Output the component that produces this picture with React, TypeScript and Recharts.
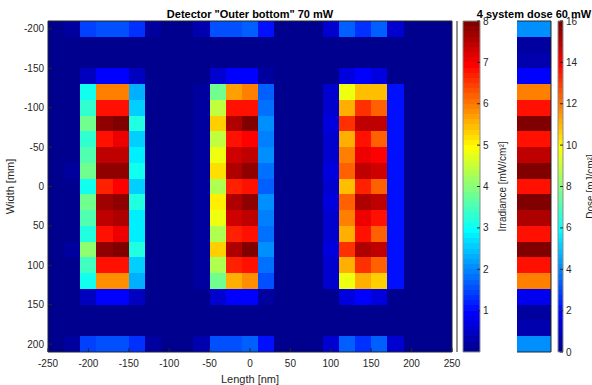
import React from 'react';
import { ScatterChart, Scatter, XAxis, YAxis, ReferenceArea } from 'recharts';

// cell centres (mm), 20 mm pitch
const xCenters = [-240, -220, -200, -180, -160, -140, -120, -100, -80, -60, -40, -20, 0, 20, 40, 60, 80, 100, 120, 140, 160, 180, 200, 220, 240];
const yCenters = [-200, -180, -160, -140, -120, -100, -80, -60, -40, -20, 0, 20, 40, 60, 80, 100, 120, 140, 160, 180, 200];
const xTicks = [-250, -200, -150, -100, -50, 0, 50, 100, 150, 200, 250];
const yTicks = [-200, -150, -100, -50, 0, 50, 100, 150, 200];
const irradianceTicks = [1, 2, 3, 4, 5, 6, 7, 8];
const doseTicks = [0, 2, 4, 6, 8, 10, 12, 14, 16];
const doseFrameTicks = [2, 4, 6, 8, 10, 12, 14];

// irradiance [mW/cm2] per column, rows from y=-200 to y=200
const colBg = [0, 0, 0, 0, 0, 0, 0, 0, 0, 0, 0, 0, 0, 0, 0, 0, 0, 0, 0, 0, 0];
const colM220 = [0.2, 0, 0, 0.05, 0.05, 0.1, 0.05, 0.05, 0.1, 0.15, 0.05, 0.1, 0.05, 0.1, 0.15, 0.05, 0.05, 0.05, 0, 0, 0.2];
const colM200 = [1.45, 0, 0, 0.45, 3.0, 3.25, 3.8, 3.25, 3.5, 3.8, 3.0, 3.85, 3.55, 3.15, 4.0, 3.45, 3.0, 0.45, 0, 0, 1.45];
const colM180 = [1.5, 0, 0, 0.9, 5.9, 6.75, 7.85, 6.8, 7.45, 7.8, 6.7, 7.7, 7.4, 6.8, 7.85, 6.8, 5.85, 0.9, 0, 0, 1.5];
const colM160 = [1.5, 0, 0, 0.9, 5.9, 6.75, 8.0, 7.0, 7.45, 7.85, 6.9, 7.85, 7.5, 7.0, 8.0, 6.8, 5.85, 0.9, 0, 0, 1.5];
const colM140 = [1.3, 0, 0, 0.45, 2.3, 2.55, 3.2, 2.55, 2.8, 3.05, 2.6, 3.2, 2.85, 2.75, 3.15, 2.6, 2.35, 0.45, 0, 0, 1.3];
const colM120 = [0.15, 0, 0, 0, 0, 0, 0, 0, 0, 0, 0, 0, 0, 0, 0, 0, 0, 0, 0, 0, 0.15];
const colM60 = [0.3, 0, 0, 0.05, 0.15, 0.15, 0.2, 0.15, 0.15, 0.2, 0.15, 0.2, 0.15, 0.15, 0.2, 0.15, 0.15, 0.05, 0, 0, 0.3];
const colM40 = [1.6, 0, 0, 0.55, 3.85, 4.4, 5.3, 4.4, 4.8, 5.15, 4.3, 5.1, 4.75, 4.35, 5.3, 4.35, 3.85, 0.55, 0, 0, 1.6];
const colM20 = [1.5, 0, 0, 0.95, 5.65, 6.75, 7.6, 6.75, 7.3, 7.6, 6.65, 7.5, 7.3, 6.7, 7.6, 6.7, 5.6, 0.95, 0, 0, 1.5];
const col0 = [1.7, 0, 0, 0.9, 5.9, 6.75, 8.0, 6.9, 7.45, 7.8, 6.8, 7.85, 7.45, 6.75, 8.0, 6.75, 5.85, 0.9, 0, 0, 1.7];
const col20 = [1.1, 0, 0, 0.2, 1.7, 1.75, 2.0, 1.95, 2.0, 1.8, 1.7, 2.0, 1.95, 1.8, 2.0, 1.85, 1.6, 0.2, 0, 0, 1.1];
const col100 = [0.55, 0, 0, 0.1, 0.6, 0.6, 0.65, 0.6, 0.6, 0.65, 0.6, 0.65, 0.6, 0.6, 0.65, 0.6, 0.6, 0.1, 0, 0, 0.6];
const col120 = [1.65, 0, 0, 0.65, 4.8, 5.5, 6.6, 5.5, 5.9, 6.2, 5.45, 6.2, 5.9, 5.5, 6.6, 5.5, 4.8, 0.65, 0, 0, 1.65];
const col140 = [1.3, 0, 0, 0.95, 5.45, 6.6, 7.45, 6.75, 7.0, 7.45, 6.7, 7.5, 7.0, 6.75, 7.5, 6.6, 5.5, 0.95, 0, 0, 1.3];
const col160 = [1.7, 0, 0, 0.7, 5.45, 6.15, 7.4, 6.2, 6.9, 7.3, 6.15, 7.4, 6.8, 6.15, 7.4, 6.15, 5.35, 0.7, 0, 0, 1.7];
const col180 = [0.6, 0, 0, 0.1, 1.05, 1.0, 1.1, 1.0, 1.05, 1.0, 1.0, 1.05, 1.0, 1.0, 1.05, 1.0, 1.0, 0.1, 0, 0, 0.6];

const irradianceCols = [
  colBg, colM220, colM200, colM180, colM160, colM140, colM120, colBg, colBg, colM60, colM40, colM20, col0,
  col20, colBg, colBg, colBg, col100, col120, col140, col160, col180, colBg, colBg, colBg,
];

// 4 system dose [mJ/cm2], rows from y=-200 to y=200
const doseCol = [4.05, 0.3, 0.5, 1.8, 11.8, 13.7, 16, 13.7, 14.9, 15.9, 13.7, 16, 15.0, 13.7, 16, 13.7, 11.8, 1.7, 0.3, 0.5, 4.0];

const W = 592;
const H = 385;
const HALF = 10;
const FONT = '"Liberation Sans", Arial, Helvetica, sans-serif';
const AXIS = '#262626';
const BAR_EDGE = '#8c8c8c';

// MATLAB jet(64)
const jetU = (k: number) => (k < 1 || k > 47 ? 0 : k <= 16 ? k / 16 : k <= 31 ? 1 : (48 - k) / 16);
const jetColor = (v: number, max: number) => {
  const i = Math.min(64, Math.max(1, Math.floor((v / max) * 64) + 1));
  const c = (k: number) => Math.round(jetU(k) * 255);
  return `rgb(${c(i - 24)},${c(i - 8)},${c(i + 8)})`;
};

const irradianceCells = xCenters.flatMap((x, i) => irradianceCols[i].map((v, j) => ({ x, y: yCenters[j], v })));
const doseCells = yCenters.map((y, j) => ({ x: 0.5, y, v: doseCol[j] }));
const levels = Array.from({ length: 64 }, (_, i) => i);

const tickStyle = { fill: AXIS, fontSize: 10, fontFamily: FONT };
const noDot = () => <g />;

const cellArea = (key: string, x1: number, x2: number, y1: number, y2: number, color: string) => (
  <ReferenceArea
    key={key}
    x1={x1}
    x2={x2}
    y1={y1}
    y2={y2}
    ifOverflow="visible"
    shape={(p: any) => (
      <rect x={p.x} y={p.y} width={p.width} height={p.height} fill={color} shapeRendering="crispEdges" />
    )}
  />
);

const layer: React.CSSProperties = { position: 'absolute', left: 0, top: 0 };

const App: React.FC = () => (
  <div style={{ position: 'absolute', left: 0, top: 0, width: W, height: H, background: '#fff', fontFamily: FONT }}>
    {/* main irradiance map */}
    <div style={layer}>
      <ScatterChart width={W} height={H} margin={{ top: 20, right: 139, bottom: 0, left: 0 }}>
        <Scatter data={irradianceCells} shape={noDot} isAnimationActive={false} />
        {irradianceCells.map((c) =>
          cellArea(`${c.x}_${c.y}`, c.x - HALF, c.x + HALF, c.y - HALF, c.y + HALF, jetColor(c.v, 8))
        )}
        <XAxis
          type="number"
          dataKey="x"
          domain={[-250, 250]}
          ticks={xTicks}
          allowDataOverflow
          height={33}
          tickSize={-4}
          tickMargin={12}
          tick={tickStyle}
          tickLine={{ stroke: AXIS }}
          axisLine={{ stroke: AXIS }}
          label={{ value: 'Length [nm]', position: 'insideBottom', offset: 2, fill: AXIS, fontSize: 11, fontFamily: FONT }}
        />
        <XAxis
          xAxisId="top"
          orientation="top"
          type="number"
          domain={[-250, 250]}
          ticks={xTicks}
          allowDataOverflow
          height={1}
          tickSize={-4}
          tick={false}
          tickLine={{ stroke: AXIS }}
          axisLine={{ stroke: AXIS }}
          label={{
            value: 'Detector "Outer bottom" 70 mW',
            position: 'top',
            offset: 2,
            fill: '#000',
            fontSize: 11,
            fontWeight: 'bold',
            fontFamily: FONT,
          }}
        />
        <YAxis
          type="number"
          dataKey="y"
          domain={[-210, 210]}
          ticks={yTicks}
          reversed
          allowDataOverflow
          width={48}
          tickSize={-4}
          tickMargin={8}
          tick={tickStyle}
          tickLine={{ stroke: AXIS }}
          axisLine={{ stroke: AXIS }}
          label={{
            value: 'Width [mm]',
            position: 'insideLeft',
            angle: -90,
            offset: 10,
            fill: AXIS,
            fontSize: 11,
            fontFamily: FONT,
            style: { textAnchor: 'middle' },
          }}
        />
        <YAxis
          yAxisId="right"
          orientation="right"
          type="number"
          domain={[-210, 210]}
          ticks={yTicks}
          reversed
          allowDataOverflow
          width={1}
          tickSize={-4}
          tick={false}
          tickLine={{ stroke: AXIS }}
          axisLine={{ stroke: AXIS }}
        />
      </ScatterChart>
    </div>

    {/* irradiance colorbar */}
    <div style={layer}>
      <ScatterChart width={W} height={H} margin={{ top: 21, right: 111, bottom: 33, left: 463 }}>
        <Scatter data={[{ x: 0.5, y: 4 }]} shape={noDot} isAnimationActive={false} />
        {levels.map((i) => cellArea(`ib${i}`, 0, 1, (i * 8) / 64, ((i + 1) * 8) / 64, jetColor(((i + 0.5) * 8) / 64, 8)))}
        <ReferenceArea x1={0} x2={1} y1={0} y2={8} fill="none" stroke={BAR_EDGE} strokeWidth={1} ifOverflow="visible" />
        <XAxis type="number" dataKey="x" domain={[0, 1]} allowDataOverflow hide />
        <YAxis
          type="number"
          dataKey="y"
          orientation="right"
          domain={[0, 8]}
          ticks={irradianceTicks}
          allowDataOverflow
          width={1}
          tickSize={-3}
          tickMargin={6}
          tick={tickStyle}
          tickLine={{ stroke: AXIS }}
          axisLine={false}
          label={{
            value: 'Irradiance [mW/cm²]',
            position: 'right',
            angle: -90,
            offset: 21,
            fill: AXIS,
            fontSize: 10,
            fontFamily: FONT,
            style: { textAnchor: 'middle' },
          }}
        />
      </ScatterChart>
    </div>

    {/* 4 system dose column */}
    <div style={layer}>
      <ScatterChart width={W} height={H} margin={{ top: 20, right: 40, bottom: 32, left: 516 }}>
        <Scatter data={doseCells} shape={noDot} isAnimationActive={false} />
        {doseCells.map((c) => cellArea(`d${c.y}`, 0, 1, c.y - HALF, c.y + HALF, jetColor(c.v, 16)))}
        <XAxis
          type="number"
          dataKey="x"
          domain={[0, 1]}
          ticks={[0.05, 0.5, 0.95]}
          allowDataOverflow
          height={1}
          tickSize={-3}
          tick={false}
          tickLine={{ stroke: AXIS }}
          axisLine={{ stroke: AXIS }}
        />
        <XAxis
          xAxisId="top"
          orientation="top"
          type="number"
          domain={[0, 1]}
          ticks={[0.05, 0.5, 0.95]}
          allowDataOverflow
          height={1}
          tickSize={-3}
          tick={false}
          tickLine={{ stroke: AXIS }}
          axisLine={{ stroke: AXIS }}
          label={{
            value: '4 system dose 60 mW',
            position: 'top',
            offset: 2,
            fill: '#000',
            fontSize: 11,
            fontWeight: 'bold',
            fontFamily: FONT,
          }}
        />
        <YAxis type="number" dataKey="y" domain={[-210, 210]} reversed allowDataOverflow hide />
        <YAxis
          yAxisId="l"
          orientation="left"
          type="number"
          domain={[0, 16]}
          ticks={doseFrameTicks}
          allowDataOverflow
          width={1}
          tickSize={-3}
          tick={false}
          tickLine={{ stroke: AXIS }}
          axisLine={{ stroke: AXIS }}
        />
        <YAxis
          yAxisId="r"
          orientation="right"
          type="number"
          domain={[0, 16]}
          ticks={doseFrameTicks}
          allowDataOverflow
          width={1}
          tickSize={-3}
          tick={false}
          tickLine={{ stroke: AXIS }}
          axisLine={{ stroke: AXIS }}
        />
      </ScatterChart>
    </div>

    {/* dose colorbar */}
    <div style={layer}>
      <ScatterChart width={W} height={H} margin={{ top: 21, right: 28, bottom: 33, left: 558 }}>
        <Scatter data={[{ x: 0.5, y: 8 }]} shape={noDot} isAnimationActive={false} />
        {levels.map((i) => cellArea(`db${i}`, 0, 1, (i * 16) / 64, ((i + 1) * 16) / 64, jetColor(((i + 0.5) * 16) / 64, 16)))}
        <ReferenceArea x1={0} x2={1} y1={0} y2={16} fill="none" stroke={BAR_EDGE} strokeWidth={1} ifOverflow="visible" />
        <XAxis type="number" dataKey="x" domain={[0, 1]} allowDataOverflow hide />
        <YAxis
          type="number"
          dataKey="y"
          orientation="right"
          domain={[0, 16]}
          ticks={doseTicks}
          allowDataOverflow
          width={1}
          tickSize={-3}
          tickMargin={6}
          tick={tickStyle}
          tickLine={{ stroke: AXIS }}
          axisLine={false}
          label={{
            value: 'Dose [mJ/cm²]',
            position: 'right',
            angle: -90,
            offset: 26,
            fill: AXIS,
            fontSize: 10,
            fontFamily: FONT,
            style: { textAnchor: 'middle' },
          }}
        />
      </ScatterChart>
    </div>
  </div>
);

export default App;
